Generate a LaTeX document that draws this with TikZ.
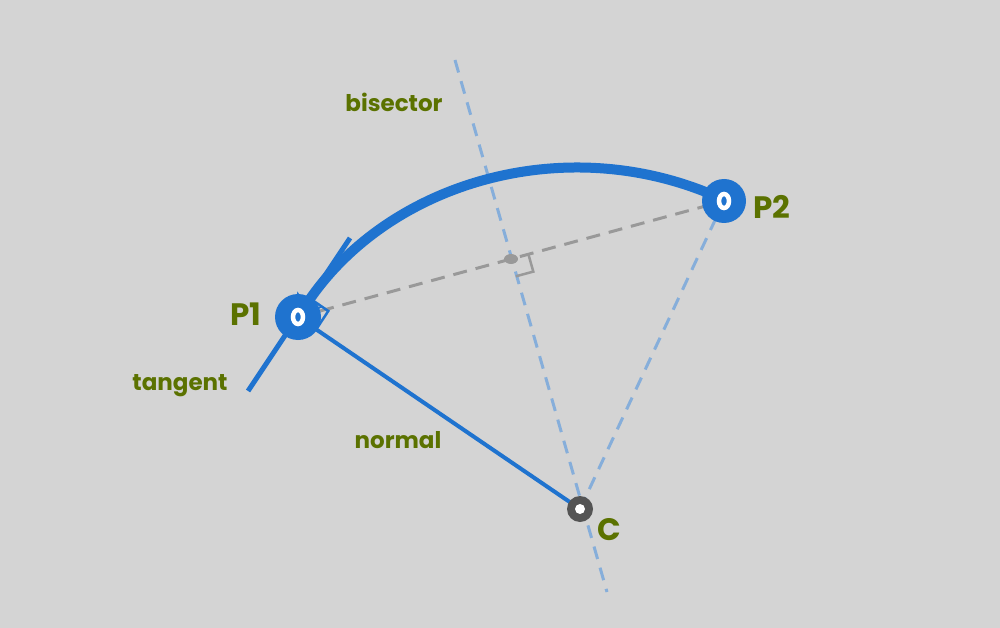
\documentclass[tikz,border=0pt]{standalone}
\usepackage{fontspec}
\setmainfont{Poppins}
\usetikzlibrary{arrows.meta,calc}
\definecolor{bg}{HTML}{D4D4D4}
\definecolor{bl}{HTML}{1F73CF}
\definecolor{lbl}{HTML}{86AEDA}
\definecolor{gr}{HTML}{999999}
\definecolor{ol}{HTML}{5B7200}
\tikzset{
 lab/.style={text=ol,font=\bfseries\fontsize{23}{23}\selectfont},
 big/.style={text=ol,font=\bfseries\fontsize{31}{31}\selectfont},
 bdash/.style={lbl,line width=3pt,dash pattern=on 13pt off 9pt},
}
\begin{document}
\begin{tikzpicture}[x=1pt,y=-1pt]
\fill[bg] (0,0) rectangle (1000,628);
\useasboundingbox (0,0) rectangle (1000,628);
\coordinate (P1) at (298,317);
\coordinate (P2) at (724,201);
\coordinate (C) at (580,509);
\coordinate (M) at (511,259);
\coordinate (B1) at (455,60);
\coordinate (B2) at (607,592);
\coordinate (T1) at (248,391);
\coordinate (T2) at (350,238);
% dashed lines
\draw[bdash] (B1) -- (B2);
\draw[bdash] (C) -- (P2);
\draw[gr,line width=3pt,dash pattern=on 14pt off 9pt] (P1) -- (P2);
% right angle at midpoint
\draw[gr,line width=2.5pt] ($(M)+(17.4,-4.7)$) -- ($(M)+(22.3,12.6)$) -- ($(M)+(4.9,17.3)$);
\fill[gr] (M) ellipse (7 and 5);
% tangent and normal
\draw[bl,line width=5pt] (T1) -- (T2);
\draw[bl,line width=4pt] (P1) -- (C);
\draw[bl,line width=2.5pt] ($(P1)+(12.1,-18.4)$) -- ($(P1)+(30.3,-6)$) -- ($(P1)+(18.2,12.4)$);
% arc
\path (C) ++(-64.94:341) coordinate (A0);
\draw[bl,line width=10pt,-{Stealth[length=28pt,width=28pt,inset=6pt]}]
  (A0) arc[start angle=-64.94,end angle=-147,radius=341];
% points
\node[circle,fill=bl,minimum size=46pt,inner sep=0] (n1) at (P1) {};
\draw[white,line width=4.5pt] (P1) ellipse (5 and 7);
\node[circle,fill=bl,minimum size=44pt,inner sep=0] (n2) at (P2) {};
\draw[white,line width=4.5pt] (P2) ellipse (5 and 7);
\node[circle,fill=black!67,minimum size=26pt,inner sep=0] (nc) at (C) {};
\fill[white] (C) circle (5);
% labels
\node[big] at (246,314) {P1};
\node[big] at (772,207) {P2};
\node[big] at (609,530) {C};
\node[lab] at (394,102) {bisector};
\node[lab] at (180,386) {tangent};
\node[lab] at (398,440) {normal};
\end{tikzpicture}
\end{document}
